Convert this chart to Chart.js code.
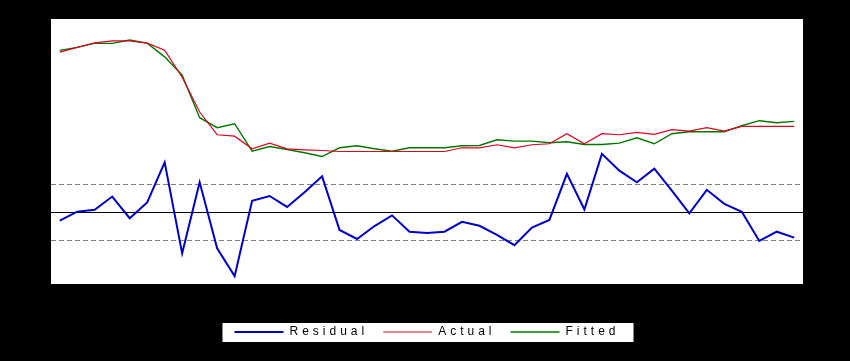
<!DOCTYPE html>
<html>
<head>
<meta charset="utf-8">
<script src="https://cdn.jsdelivr.net/npm/chart.js@4/dist/chart.umd.min.js"></script>
<style>
  html, body { margin: 0; padding: 0; background: #000; }
  #wrap { width: 850px; height: 361px; }
  canvas { display: block; background: #000; }
</style>
</head>
<body>
<div id="wrap"><canvas id="c" width="850" height="361"></canvas></div>
<script>
// ---- data ----
const periods = [];
for (let y = 1970; y <= 2012; y++) periods.push(String(y));

const residual = [-0.32, 0.00, 0.07, 0.54, -0.23, 0.33, 1.76, -1.48, 1.05, -1.30,
  -2.29, 0.39, 0.56, 0.17, 0.69, 1.26, -0.65, -0.97, -0.51, -0.13,
  -0.71, -0.76, -0.71, -0.36, -0.50, -0.82, -1.19, -0.56, -0.29, 1.35,
  0.08, 2.06, 1.46, 1.05, 1.53, 0.75, -0.06, 0.78, 0.28, 0.00,
  -1.04, -0.71, -0.92];

const actual = [23.10, 23.57, 24.03, 24.23, 24.23, 24.00, 23.30, 20.60, 17.13, 14.87,
  14.73, 13.47, 14.03, 13.47, 13.37, 13.30, 13.20, 13.20, 13.20, 13.20,
  13.20, 13.20, 13.20, 13.57, 13.57, 13.87, 13.57, 13.87, 13.97, 14.97,
  13.97, 14.97, 14.87, 15.10, 14.90, 15.37, 15.23, 15.57, 15.23, 15.70,
  15.70, 15.70, 15.70];

const fitted = [23.27, 23.57, 23.97, 23.97, 24.30, 24.00, 22.63, 20.80, 16.57, 15.57,
  15.97, 13.23, 13.70, 13.40, 13.07, 12.70, 13.57, 13.77, 13.47, 13.23,
  13.57, 13.57, 13.57, 13.77, 13.80, 14.37, 14.23, 14.23, 14.07, 14.17,
  13.90, 13.90, 14.03, 14.57, 13.97, 14.97, 15.17, 15.17, 15.17, 15.77,
  16.27, 16.07, 16.20];

const residualLines = [-1, 0, 1];   // +/- 1 S.E. bands and zero line
const seriesNames = ['Residual', 'Actual', 'Fitted'];

// ---- plugins ----
const LEGEND_SHIFT = 27;
const decor = {
  id: 'decor',
  beforeLayout(chart) { chart.ctx.letterSpacing = '4px'; },
  afterLayout(chart) {
    const lg = chart.legend;
    if (lg) { lg.top += LEGEND_SHIFT; lg.bottom += LEGEND_SHIFT; }
  },
  beforeDraw(chart) {
    const ctx = chart.ctx, a = chart.chartArea;
    ctx.save();
    ctx.fillStyle = '#000';
    ctx.fillRect(0, 0, chart.width, chart.height);
    ctx.fillStyle = '#fff';
    ctx.fillRect(a.left, a.top, a.right - a.left, a.bottom - a.top);
    const lg = chart.legend;
    if (lg && lg.legendHitBoxes && lg.legendHitBoxes.length) {
      const hb = lg.legendHitBoxes;
      let l = Infinity, r = -Infinity;
      hb.forEach(h => { l = Math.min(l, h.left); r = Math.max(r, h.left + h.width); });
      const fs = lg.options.labels.font.size;
      const cy = lg.top + lg.options.labels.padding + fs / 2;
      ctx.fillRect(l - 12, cy - 9, (r - l) + 26, 19);
    }
    ctx.restore();
    chart.ctx.letterSpacing = '4px';
  },
  beforeDatasetsDraw(chart) {
    const ctx = chart.ctx, a = chart.chartArea, ys = chart.scales.y;
    ctx.save();
    ctx.letterSpacing = '0px';
    residualLines.forEach(v => {
      const py = Math.round(ys.getPixelForValue(v)) + 0.5;
      ctx.beginPath();
      if (v === 0) { ctx.strokeStyle = '#000'; ctx.setLineDash([]); }
      else { ctx.strokeStyle = '#808080'; ctx.setLineDash([5, 3]); }
      ctx.lineWidth = 1;
      ctx.moveTo(a.left, py);
      ctx.lineTo(a.right, py);
      ctx.stroke();
    });
    ctx.restore();
  }
};

new Chart(document.getElementById('c'), {
  type: 'line',
  data: {
    labels: periods,
    datasets: [
      { label: seriesNames[0], data: residual, yAxisID: 'y', borderColor: '#0000c8', backgroundColor: '#0000c8', borderWidth: 2, pointRadius: 0, tension: 0 },
      { label: seriesNames[1], data: actual, yAxisID: 'y1', borderColor: '#e00020', backgroundColor: '#e00020', borderWidth: 1.2, pointRadius: 0, tension: 0 },
      { label: seriesNames[2], data: fitted, yAxisID: 'y1', borderColor: '#007800', backgroundColor: '#007800', borderWidth: 1.4, pointRadius: 0, tension: 0 }
    ]
  },
  options: {
    responsive: false,
    devicePixelRatio: 1,
    animation: false,
    layout: { padding: { left: 51, right: 47, top: 19, bottom: 40 } },
    scales: {
      x: { type: 'category', offset: true, display: false },
      y: { position: 'left', min: -2.571, max: 6.857, display: false },
      y1: { position: 'right', min: 0, max: 26.4, display: false }
    },
    plugins: {
      tooltip: { enabled: false },
      legend: {
        display: true,
        position: 'bottom',
        labels: {
          usePointStyle: true,
          pointStyle: 'line',
          pointStyleWidth: 49,
          padding: 15,
          color: '#000',
          font: { family: "'Liberation Sans', Arial, sans-serif", size: 12 }
        }
      }
    }
  },
  plugins: [decor]
});
</script>
</body>
</html>
